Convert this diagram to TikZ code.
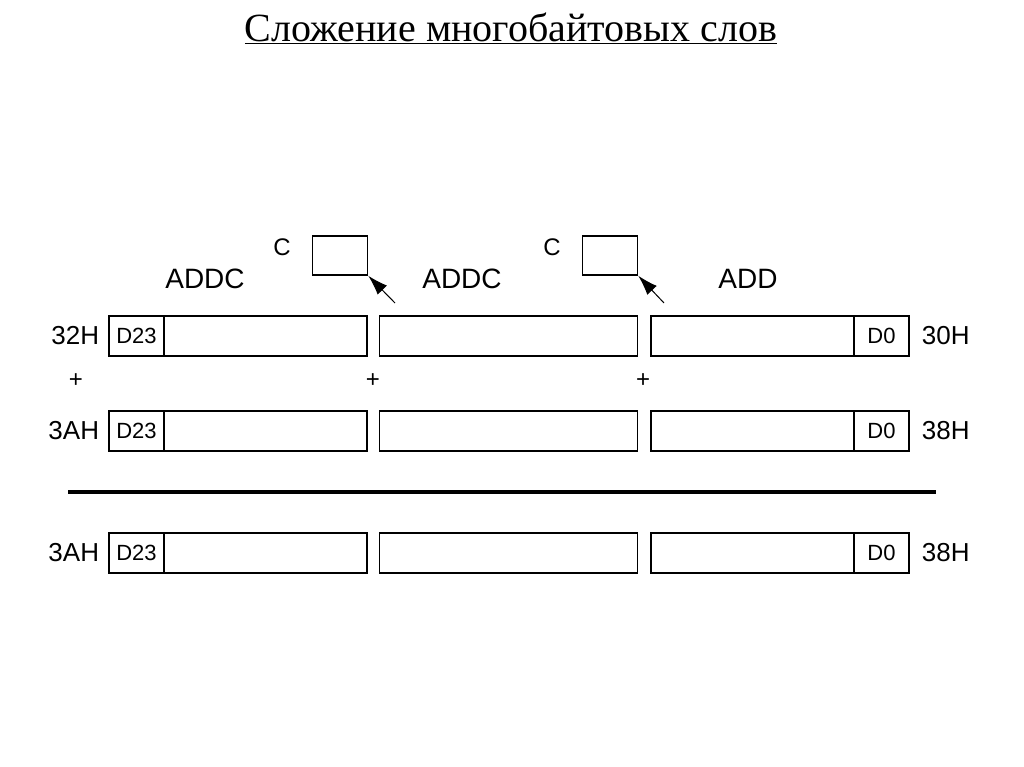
\documentclass[tikz,border=0pt]{standalone}
\usepackage{fontspec}
\setmainfont{Liberation Serif}
\newfontfamily\diagfont{Liberation Sans}
\usetikzlibrary{arrows.meta,positioning}

\tikzset{
  reg/.style={draw, line width=1.5pt, rectangle, minimum width=258pt, minimum height=40pt, inner sep=0pt},
  cell/.style={draw, line width=1.5pt, rectangle, minimum width=55pt, minimum height=40pt, inner sep=0pt, font=\diagfont\fontsize{22}{24}\selectfont},
  carry/.style={draw, line width=1.5pt, rectangle, minimum width=55pt, minimum height=39pt, inner sep=0pt},
  lbl/.style={inner sep=0pt, font=\diagfont\fontsize{26}{28}\selectfont},
  op/.style={inner sep=0pt, font=\diagfont\fontsize{28}{30}\selectfont},
  plus/.style={inner sep=0pt, font=\diagfont\fontsize{24}{26}\selectfont}
}

\begin{document}
\begin{tikzpicture}[x=1pt, y=-1pt]
  \useasboundingbox (0,0) rectangle (1024,767);
  % title
  \node[font=\fontsize{40}{44}\selectfont] (title) at (511,28) {\underline{Сложение многобайтовых слов}};

  % three rows of registers
  \foreach \y/\r/\ll/\rl in {336/1/32H/30H, 431/2/3AH/38H, 553/3/3AH/38H} {
    \node[reg] (r\r a) at (238,\y) {};
    \node[reg] (r\r b) at (508.5,\y) {};
    \node[reg] (r\r c) at (780,\y) {};
    \node[cell, anchor=west] (hi\r) at (r\r a.west) {D23};
    \node[cell, anchor=east] (lo\r) at (r\r c.east) {D0};
    \node[lbl, left=9pt of r\r a] (left\r) {\ll};
    \node[lbl, right=12pt of r\r c] (right\r) {\rl};
  }

  % plus signs
  \node[plus] (p1) at (76,381) {+};
  \node[plus] (p2) at (373,381) {+};
  \node[plus] (p3) at (643,381) {+};

  % sum line
  \draw[line width=4pt] (68,492) -- (936,492);

  % carry flags
  \node[carry] (c1) at (340,255.5) {};
  \node[carry] (c2) at (610,255.5) {};
  \node[op, font=\diagfont\fontsize{24}{26}\selectfont] (cl1) at (282,247) {C};
  \node[op, font=\diagfont\fontsize{24}{26}\selectfont] (cl2) at (552,247) {C};
  \coordinate (a1) at (395,303);
  \coordinate (a2) at (664,303);
  \draw[-{Latex[length=20pt,width=13pt]}, line width=1pt] (a1) -- (c1.south east);
  \draw[-{Latex[length=20pt,width=13pt]}, line width=1pt] (a2) -- (c2.south east);

  % instructions
  \node[op] (op1) at (205,279) {ADDC};
  \node[op] (op2) at (462,279) {ADDC};
  \node[op] (op3) at (748,279) {ADD};
\end{tikzpicture}
\end{document}
